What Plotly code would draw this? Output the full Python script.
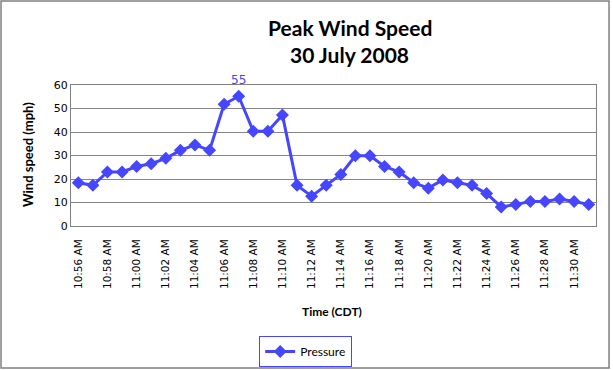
import plotly.graph_objects as go

times = ["10:56 AM", "10:57 AM", "10:58 AM", "10:59 AM", "11:00 AM", "11:01 AM",
         "11:02 AM", "11:03 AM", "11:04 AM", "11:05 AM", "11:06 AM", "11:07 AM",
         "11:08 AM", "11:09 AM", "11:10 AM", "11:11 AM", "11:12 AM", "11:13 AM",
         "11:14 AM", "11:15 AM", "11:16 AM", "11:17 AM", "11:18 AM", "11:19 AM",
         "11:20 AM", "11:21 AM", "11:22 AM", "11:23 AM", "11:24 AM", "11:25 AM",
         "11:26 AM", "11:27 AM", "11:28 AM", "11:29 AM", "11:30 AM", "11:31 AM"]
wind_speed = [18.4, 17.3, 23.0, 23.0, 25.3, 26.5, 28.8, 32.2, 34.5, 32.2, 51.8, 55.2,
              40.3, 40.3, 47.2, 17.3, 12.7, 17.3, 21.9, 29.9, 29.9, 25.3, 23.0, 18.4,
              16.1, 19.6, 18.4, 17.3, 13.8, 8.1, 9.2, 10.4, 10.4, 11.5, 10.4, 9.2]
peak_index = 11
peak_label = "55"
tick_labels = times[::2]
title_lines = ["Peak Wind Speed", "30 July 2008"]
x_title = "Time (CDT)"
y_title = "Wind speed (mph)"

blue = "#4646FF"

fig = go.Figure()
fig.add_trace(go.Scatter(
    x=times, y=wind_speed, name="Pressure",
    mode="lines+markers",
    line=dict(color=blue, width=3),
    marker=dict(symbol="diamond", size=10, color=blue),
))

ann = []
for txt, yp in zip(title_lines, [1.411, 1.213]):
    ann.append(dict(text=f"<b>{txt}</b>", xref="paper", yref="paper", x=0.5314, y=yp,
                    xanchor="center", yanchor="middle", showarrow=False,
                    font=dict(family="Lato", size=21, color="black")))
ann.append(dict(text=f"<b>{y_title}</b>", xref="paper", yref="paper", x=-0.082, y=0.51,
                xanchor="center", yanchor="middle", showarrow=False, textangle=-90,
                font=dict(family="Lato", size=13, color="black")))
ann.append(dict(text=f"<b>{x_title}</b>", xref="paper", yref="paper", x=0.497, y=-0.603,
                xanchor="center", yanchor="middle", showarrow=False,
                font=dict(family="Lato", size=12, color="black")))
ann.append(dict(text=peak_label, x=times[peak_index], y=wind_speed[peak_index],
                xref="x", yref="y", showarrow=False, yanchor="bottom", yshift=7,
                font=dict(family="DejaVu Sans", size=12, color=blue)))

fig.update_layout(
    width=613, height=370,
    margin=dict(l=71, r=17, t=85, b=144, autoexpand=False),
    paper_bgcolor="white", plot_bgcolor="white",
    showlegend=True,
    legend=dict(
        x=0.447, xanchor="center", y=-0.78, yanchor="top",
        orientation="h",
        bordercolor=blue, borderwidth=1,
        font=dict(family="Lato", size=12, color="black"),
        itemwidth=30,
    ),
    xaxis=dict(
        type="category", automargin=False,
        range=[-0.5, len(times) - 0.5],
        tickvals=tick_labels, ticktext=tick_labels,
        tickangle=-90, ticklabelstandoff=8,
        tickfont=dict(family="DejaVu Sans", size=10.5, color="black"),
        showgrid=False, showline=True, linecolor="#808080", linewidth=1,
        mirror=True, ticks="",
    ),
    yaxis=dict(
        range=[0, 60], dtick=10, automargin=False,
        tickfont=dict(family="DejaVu Sans", size=11, color="black"),
        showgrid=True, gridcolor="#868686", gridwidth=1,
        showline=True, linecolor="#808080", linewidth=1, mirror=True,
        zeroline=False, ticks="",
    ),
    annotations=ann,
    shapes=[dict(
        type="rect", xref="paper", yref="paper",
        x0=-0.1333, x1=1.0248, y0=-1.007, y1=1.596,
        line=dict(color="#808080", width=1.5), fillcolor="rgba(0,0,0,0)",
    )],
)

fig.write_html("out.html", config={"displayModeBar": False},
               post_script="document.body.style.margin='0';document.body.style.overflow='hidden';")
